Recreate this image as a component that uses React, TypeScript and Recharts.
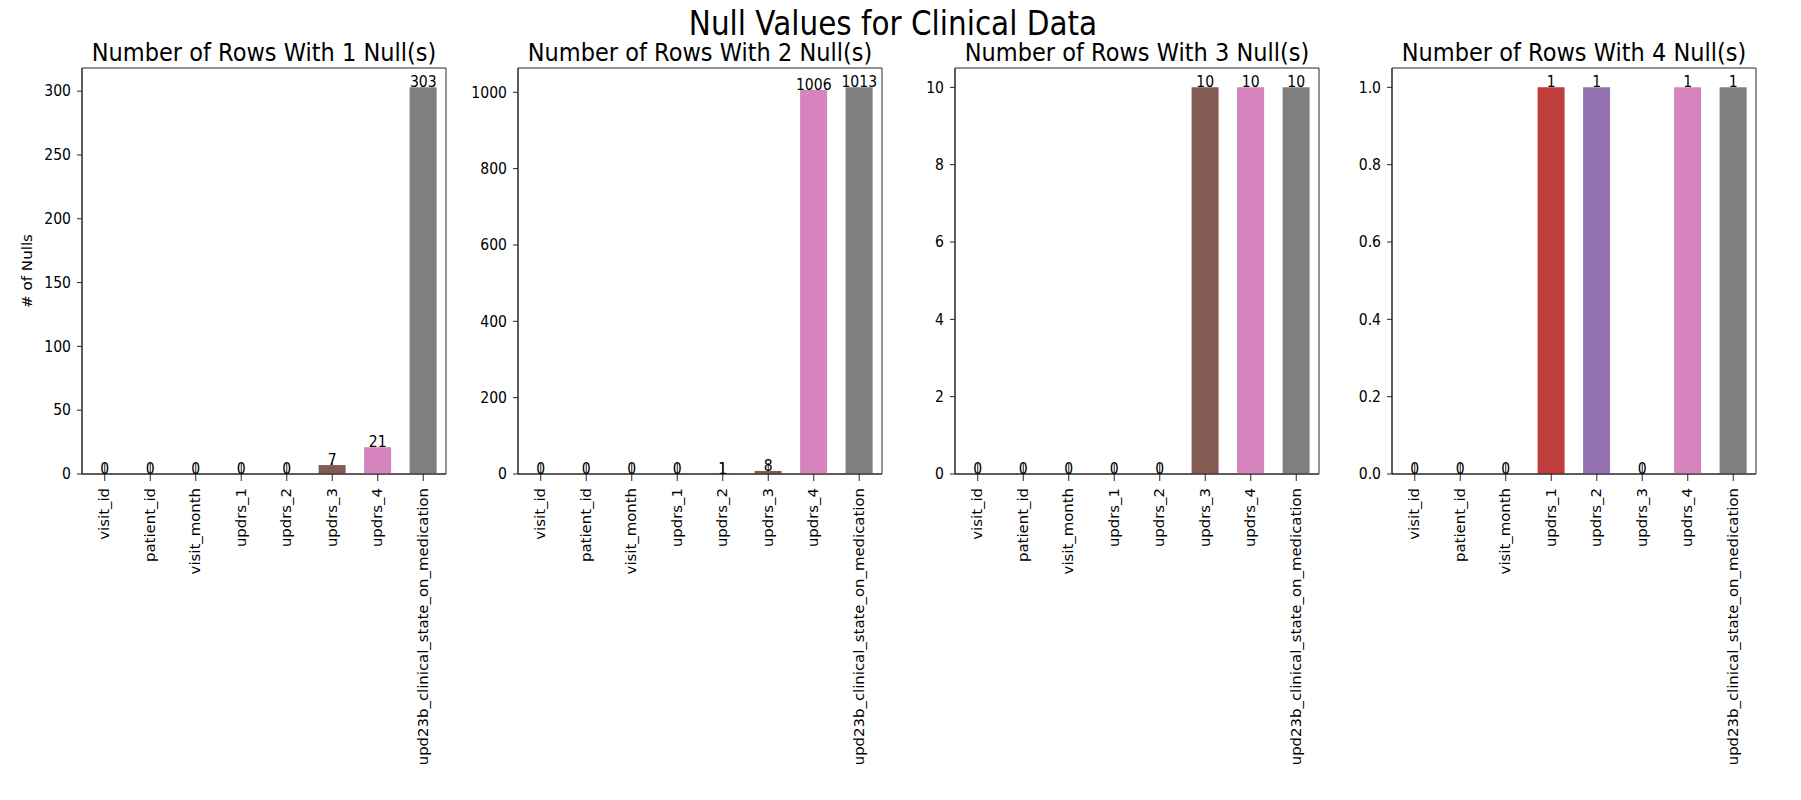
import { Bar, Cell, ComposedChart, LabelList, Line, ReferenceArea, XAxis, YAxis } from 'recharts';

const categories = [
  'visit_id',
  'patient_id',
  'visit_month',
  'updrs_1',
  'updrs_2',
  'updrs_3',
  'updrs_4',
  'upd23b_clinical_state_on_medication',
];

const nullsOne = [0, 0, 0, 0, 0, 7, 21, 303];
const nullsTwo = [0, 0, 0, 0, 1, 8, 1006, 1013];
const nullsThree = [0, 0, 0, 0, 0, 10, 10, 10];
const nullsFour = [0, 0, 0, 1, 1, 0, 1, 1];

const ticksOne = [0, 50, 100, 150, 200, 250, 300];
const ticksTwo = [0, 200, 400, 600, 800, 1000];
const ticksThree = [0, 2, 4, 6, 8, 10];
const ticksFour = [0, 0.2, 0.4, 0.6, 0.8, 1.0];

const palette = ['#3274a1', '#e1812c', '#3a923a', '#c03d3e', '#9372b2', '#845b53', '#d684bd', '#7f7f7f'];

const FONT = '"DejaVu Sans", sans-serif';
const STRETCH = 1.12;
const AXIS_COLOR = '#262626';
const PLOT_TOP = 68;
const PLOT_W = 364;
const PLOT_H = 406;
const BASELINE = PLOT_TOP + PLOT_H;
const Y_AXIS_W = 72;
const panelLefts = [82, 518, 955, 1392];

// tickSize 5 + tickMargin 9 -> the axis line sits 14px above the tick's y
const XTick = ({ x, y, payload }: any) => {
  const axisY = y - 14;
  return (
    <g>
      <line x1={x} x2={x} y1={axisY} y2={axisY + 7} stroke={AXIS_COLOR} strokeWidth={1} />
      <text
        transform={`translate(${x},${y}) rotate(-90) scale(${STRETCH},1)`}
        textAnchor="end"
        dominantBaseline="central"
        fontSize={13.3}
        fontFamily={FONT}
        fill="#000"
      >
        {payload.value}
      </text>
    </g>
  );
};

const makeYTick = (decimals: number) => ({ x, y, payload }: any) => (
  <text
    transform={`translate(${x},${y}) scale(1,${STRETCH})`}
    textAnchor="end"
    dominantBaseline="central"
    fontSize={14}
    fontFamily={FONT}
    fill="#000"
  >
    {Number(payload.value).toFixed(decimals)}
  </text>
);

// value label at the bar top; the thin stem only shows where the bar is too short to hide it
const ValueLabel = ({ x, y, value }: any) => {
  const stemTop = BASELINE - 11;
  return (
    <g>
      {y > stemTop && <line x1={x} x2={x} y1={stemTop} y2={y} stroke={AXIS_COLOR} strokeWidth={1} />}
      <text
        transform={`translate(${x},${y}) scale(1,${STRETCH})`}
        textAnchor="middle"
        fontSize={14}
        fontFamily={FONT}
        fill="#000"
      >
        {value}
      </text>
    </g>
  );
};

interface PanelProps {
  values: number[];
  ticks: number[];
  decimals: number;
  left: number;
}

const Panel = ({ values, ticks, decimals, left }: PanelProps) => {
  const data = categories.map((name, i) => ({ name, count: values[i] }));
  const top = Math.max(...values) * 1.05;
  return (
    <div style={{ position: 'absolute', left: left - Y_AXIS_W, top: 0 }}>
      <ComposedChart
        width={Y_AXIS_W + PLOT_W + 1}
        height={800}
        data={data}
        margin={{ top: PLOT_TOP, right: 1, bottom: 6, left: 0 }}
        barCategoryGap="20%"
      >
        <XAxis
          dataKey="name"
          interval={0}
          height={800 - PLOT_TOP - PLOT_H - 6}
          tickSize={5}
          tickMargin={9}
          tickLine={false}
          tick={<XTick />}
          stroke={AXIS_COLOR}
        />
        <YAxis
          width={Y_AXIS_W}
          domain={[0, top]}
          ticks={ticks}
          interval={0}
          allowDataOverflow
          tickSize={5}
          tickMargin={6}
          tick={makeYTick(decimals)}
          stroke={AXIS_COLOR}
        />
        <Bar dataKey="count" isAnimationActive={false}>
          {data.map((d, i) => (
            <Cell key={d.name} fill={palette[i]} />
          ))}
        </Bar>
        <Line
          dataKey="count"
          stroke="none"
          dot={false}
          activeDot={false}
          isAnimationActive={false}
        >
          <LabelList dataKey="count" content={<ValueLabel />} />
        </Line>
        <ReferenceArea y1={0} y2={top} fill="none" stroke={AXIS_COLOR} strokeWidth={1} ifOverflow="visible" />
      </ComposedChart>
    </div>
  );
};

const panels = [
  { title: 'Number of Rows With 1 Null(s)', values: nullsOne, ticks: ticksOne, decimals: 0 },
  { title: 'Number of Rows With 2 Null(s)', values: nullsTwo, ticks: ticksTwo, decimals: 0 },
  { title: 'Number of Rows With 3 Null(s)', values: nullsThree, ticks: ticksThree, decimals: 0 },
  { title: 'Number of Rows With 4 Null(s)', values: nullsFour, ticks: ticksFour, decimals: 1 },
];

export default function App() {
  return (
    <div style={{ position: 'absolute', left: 0, top: 0, width: 1801, height: 800, background: '#fff' }}>
      {panels.map((p, i) => (
        <Panel key={p.title} values={p.values} ticks={p.ticks} decimals={p.decimals} left={panelLefts[i]} />
      ))}
      <svg width={1801} height={800} style={{ position: 'absolute', left: 0, top: 0, pointerEvents: 'none' }}>
        <text
          transform={`translate(893,35) scale(1,${STRETCH})`}
          textAnchor="middle"
          fontSize={29.5}
          fontFamily={FONT}
          fill="#000"
        >
          Null Values for Clinical Data
        </text>
        {panels.map((p, i) => (
          <text
            key={p.title}
            transform={`translate(${panelLefts[i] + PLOT_W / 2},61) scale(1,${STRETCH})`}
            textAnchor="middle"
            fontSize={22.5}
            fontFamily={FONT}
            fill="#000"
          >
            {p.title}
          </text>
        ))}
        <text
          transform={`translate(27,${PLOT_TOP + PLOT_H / 2}) rotate(-90) scale(${STRETCH},1)`}
          textAnchor="middle"
          dominantBaseline="central"
          fontSize={13.5}
          fontFamily={FONT}
          fill="#000"
        >
          # of Nulls
        </text>
      </svg>
    </div>
  );
}
